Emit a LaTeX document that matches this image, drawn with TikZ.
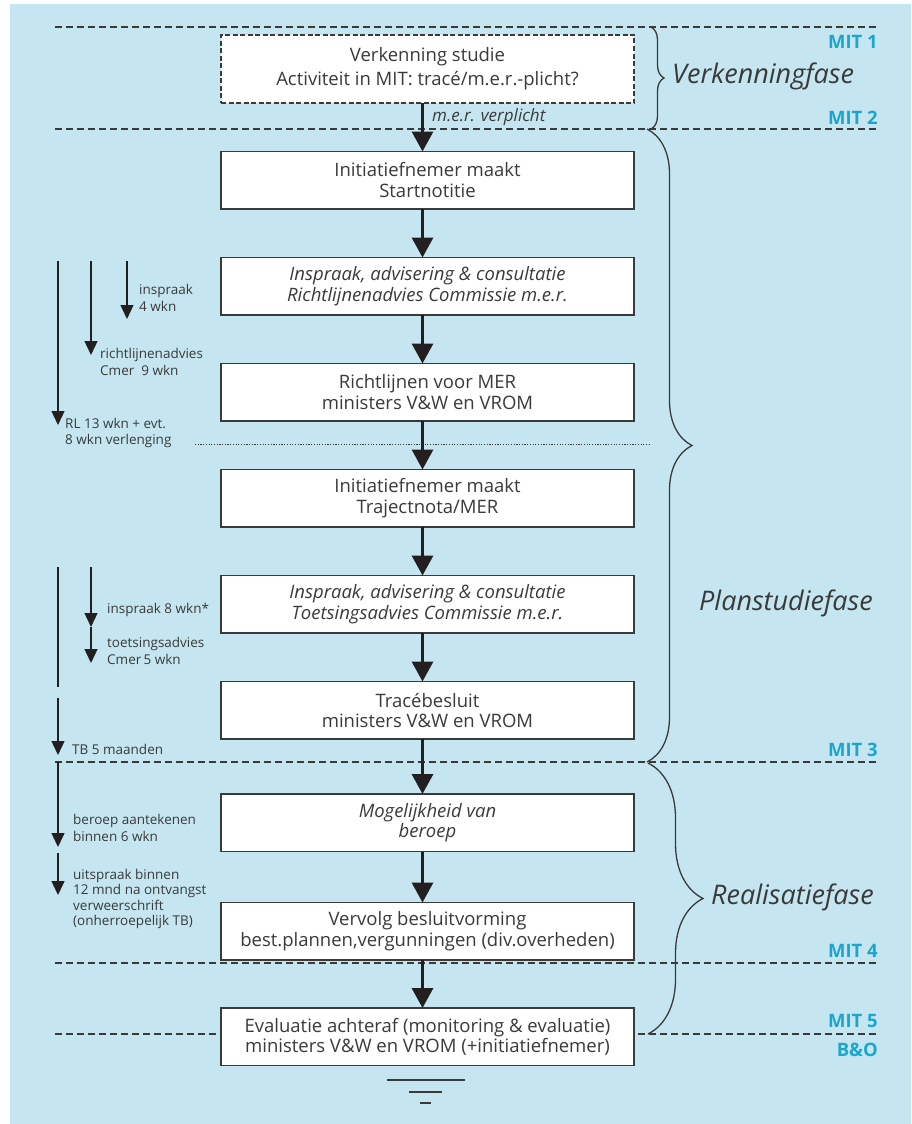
\documentclass[tikz,border=0pt]{standalone}
\usepackage{fontspec}
\setmainfont{Open Sans}
\usetikzlibrary{positioning,arrows.meta,decorations.pathreplacing}
\definecolor{lichtblauw}{HTML}{C5E6F0}
\definecolor{mitblauw}{HTML}{1AA6CD}
\definecolor{donker}{HTML}{3A3A3A}
\definecolor{zwart}{HTML}{231F20}

\begin{document}
\begin{tikzpicture}[x=1pt,y=-1pt,node distance=48.5pt,
  blok/.style={rectangle,draw=donker,line width=1.3pt,outer sep=0pt,fill=white,text=donker,align=center,font=\fontsize{18.5}{20.5}\selectfont,minimum width=413pt,minimum height=57.5pt,inner sep=2pt},
  pijl/.style={-{Triangle[length=20pt,width=21pt]},line width=3.3pt,zwart},
  pijltje/.style={-{Triangle[length=14pt,width=13pt]},line width=1.3pt,zwart},
  notitie/.style={anchor=west,align=left,inner sep=0pt,text=donker,font=\fontsize{13.5}{16.5}\selectfont},
  mitlijn/.style={line width=1.3pt,donker,dash pattern=on 7pt off 4pt},
  mitlabel/.style={anchor=east,inner sep=0pt,text=mitblauw,font=\fontsize{18.5}{18.5}\selectfont\bfseries},
  accolade/.style={decorate,decoration={brace,amplitude=#1},line width=1.3pt,donker},
  fase/.style={anchor=west,inner sep=0pt,text=donker,font=\fontsize{27}{27}\selectfont\itshape}]
\useasboundingbox (0,0) rectangle (911,1124);
\fill[lichtblauw] (10,4) rectangle (911,1124);
% MIT lijnen
\foreach \y in {27,129,762,963,1034} \draw[mitlijn] (55,\y) -- (878,\y);
\draw[donker,line width=1pt,dash pattern=on 1.2pt off 1.5pt] (195,444) -- (650,444);
\node[mitlabel] (mit1) at (878,42) {MIT 1};
\node[mitlabel] (mit2) at (878,118) {MIT 2};
\node[mitlabel] (mit3) at (878,750) {MIT 3};
\node[mitlabel] (mit4) at (878,951) {MIT 4};
\node[mitlabel] (mit5) at (878,1021) {MIT 5};
\node[mitlabel] (bo) at (878,1050) {B\&O};
% stappen
\node[blok,dash pattern=on 5pt off 2.5pt,minimum height=68pt] (verk) at (427.5,69) {Verkenning studie\\[3.5pt]Activiteit in MIT: tracé/m.e.r.-plicht?};
\node[blok,below=of verk] (start) {Initiatiefnemer maakt\\Startnotitie};
\node[blok,below=of start] (inspr1) {\itshape Inspraak, advisering \& consultatie\\\itshape Richtlijnenadvies Commissie m.e.r.};
\node[blok,below=of inspr1] (richt) {Richtlijnen voor MER\\ministers V\&W en VROM};
\node[blok,below=of richt] (traj) {Initiatiefnemer maakt\\Trajectnota/MER};
\node[blok,below=of traj] (inspr2) {\itshape Inspraak, advisering \& consultatie\\\itshape Toetsingsadvies Commissie m.e.r.};
\node[blok,below=of inspr2] (trace) {Tracébesluit\\ministers V\&W en VROM};
\node[blok,below=55pt of trace] (beroep) {\itshape Mogelijkheid van\\\itshape beroep};
\node[blok,below=51pt of beroep] (vervolg) {Vervolg besluitvorming\\best.plannen,vergunningen (div.overheden)};
\node[blok,below=48pt of vervolg] (eval) {Evaluatie achteraf (monitoring \& evaluatie)\\ministers V\&W en VROM (+initiatiefnemer)};
\foreach \a/\b in {verk/start,start/inspr1,inspr1/richt,richt/traj,traj/inspr2,inspr2/trace,trace/beroep,beroep/vervolg,vervolg/eval}
  \draw[pijl] ([xshift=-5pt]\a.south) -- ([xshift=-5pt]\b.north);
\node[anchor=west,inner sep=0pt,text=donker,font=\fontsize{17}{17}\selectfont\itshape] (verpl) at (432,117) {m.e.r. verplicht};
% fasen
\draw[accolade=13pt] (651,27) -- (651,129);
\draw[accolade=45pt] (647,129) -- (647,762);
\draw[accolade=55pt] (648,763) -- (648,1034);
\node[fase] (f1) at (672,76) {Verkenningfase};
\node[fase] (f2) at (699,603) {Planstudiefase};
\node[fase] (f3) at (711,897) {Realisatiefase};
% termijnen links
\draw[line width=1.3pt,zwart] (58,567) coordinate (lijnb) -- (58,687) coordinate (lijne);
\foreach \n/\x/\b/\e in {t1/127/261/319,t2/91/261/355,t3/58/261/425,t4/91/567/627,t5/91/627/663,t6/58/698/755,t7/58/762/847,t8/58/853/895}{
  \coordinate (\n b) at (\x,\b);
  \coordinate (\n e) at (\x,\e);
  \draw[pijltje] (\n b) -- (\n e);
}
\node[notitie] (n1) at (139,298) {inspraak\\4 wkn};
\node[notitie] (n2) at (100,362) {richtlijnenadvies\\Cmer\ \ 9 wkn};
\node[notitie] (n3) at (65,433) {RL 13 wkn + evt.\\8 wkn verlenging};
\node[notitie] (n4) at (107,610) {inspraak 8 wkn*};
\node[notitie] (n5) at (107,651) {toetsingsadvies\\Cmer\,5 wkn};
\node[notitie] (n6) at (72,749) {TB 5 maanden};
\node[notitie] (n7) at (73,828) {beroep aantekenen\\binnen 6 wkn};
\node[notitie,font=\fontsize{13.5}{15.5}\selectfont] (n8) at (73,899) {uitspraak binnen\\12 mnd na ontvangst\\verweerschrift\\(onherroepelijk TB)};
% aarde
\draw[line width=1.3pt,donker] (387,1080) -- (465,1080) (409,1092) -- (442,1092) (420,1103) -- (431,1103);
\end{tikzpicture}
\end{document}
